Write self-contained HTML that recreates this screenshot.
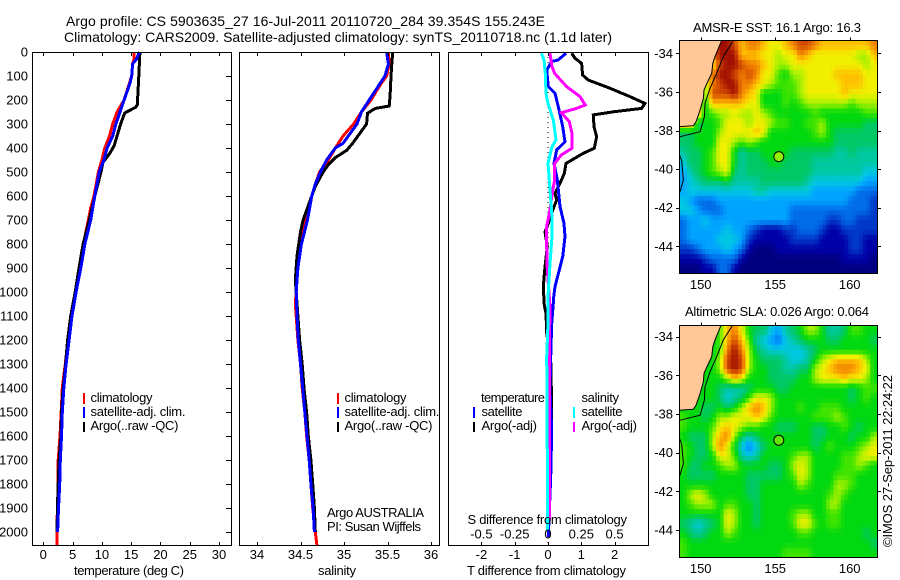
<!DOCTYPE html>
<html>
<head>
<meta charset="utf-8">
<title>Argo profile</title>
<style>
html,body{margin:0;padding:0;background:#fff;}
svg{display:block;}
text{font-family:"Liberation Sans",sans-serif;font-size:13px;fill:#000;}
</style>
</head>
<body>
<svg id="chart" width="900" height="580" viewBox="0 0 900 580" xmlns="http://www.w3.org/2000/svg">
<rect width="900" height="580" fill="#fff"/>
<text x="66" y="26" style="font-size:14px" textLength="479">Argo profile: CS 5903635_27 16-Jul-2011 20110720_284 39.354S 155.243E</text>
<text x="64" y="42" style="font-size:14px" textLength="548">Climatology: CARS2009. Satellite-adjusted climatology: synTS_20110718.nc (1.1d later)</text>

<g id="marks"></g>

<rect x="32.5" y="52.5" width="199" height="493" fill="none" stroke="#000"/>
<rect x="239.5" y="52.5" width="200" height="493" fill="none" stroke="#000"/>
<rect x="448.5" y="52.5" width="200" height="493" fill="none" stroke="#000"/>

<g id="ticks"></g>

<text x="74" y="575" textLength="110">temperature (deg C)</text>
<text x="318" y="575" textLength="38">salinity</text>
<text x="467" y="575" textLength="159">T difference from climatology</text>
<text x="467.5" y="524" textLength="159.5">S difference from climatology</text>

<g>
<rect x="83" y="393" width="2" height="11" fill="#f00"/>
<rect x="83" y="407" width="2" height="11" fill="#00f"/>
<rect x="83" y="422" width="2" height="10" fill="#000"/>
<text x="90.5" y="402" textLength="62">climatology</text>
<text x="90.5" y="416" textLength="95">satellite-adj. clim.</text>
<text x="90.5" y="430" textLength="88">Argo(..raw -QC)</text>
</g>
<g>
<rect x="337" y="393" width="2" height="11" fill="#f00"/>
<rect x="337" y="407" width="2" height="11" fill="#00f"/>
<rect x="337" y="422" width="2" height="10" fill="#000"/>
<text x="344.5" y="402" textLength="62">climatology</text>
<text x="344.5" y="416" textLength="95">satellite-adj. clim.</text>
<text x="344.5" y="430" textLength="88">Argo(..raw -QC)</text>
</g>
<text x="327" y="517" textLength="97">Argo AUSTRALIA</text>
<text x="327" y="531" textLength="94">PI: Susan Wijffels</text>

<g>
<text x="481" y="402" textLength="64">temperature</text>
<text x="581.5" y="402" textLength="37.5">salinity</text>
<rect x="473" y="407" width="2" height="11" fill="#00f"/>
<rect x="473" y="422" width="2" height="10" fill="#000"/>
<rect x="573" y="407" width="2" height="11" fill="#0ff"/>
<rect x="573" y="422" width="2" height="10" fill="#f0f"/>
<text x="481.5" y="416" textLength="41">satellite</text>
<text x="481.5" y="430" textLength="55.5">Argo(-adj)</text>
<text x="581.5" y="416" textLength="41">satellite</text>
<text x="581.5" y="430" textLength="55.5">Argo(-adj)</text>
</g>

<text x="693" y="32" textLength="168">AMSR-E SST: 16.1 Argo: 16.3</text>
<text x="685" y="316" textLength="184">Altimetric SLA: 0.026 Argo: 0.064</text>
<text transform="translate(892,547) rotate(-90)" textLength="172">©IMOS 27-Sep-2011 22:24:22</text>
</svg>

<script>
// ---- profile data: temperature panel ----
const argoTempDepths = [0,100,220,230,254,300,390,420,460,500,600,700,800,900,1000,1100,1200,1300,1400,1500,1600,1700,1800,1900,2000];
const argoTemp = [16.5,16.3,16.05,15.8,13.9,13.2,12.1,11.4,10.2,9.85,8.8,7.85,6.8,6.1,5.45,4.67,4.15,3.8,3.4,3.1,3.0,2.7,2.55,2.4,2.35];
const climTempDepths = [0,30,50,100,130,200,250,300,350,400,450,500,600,650,700,800,900,1000,1100,1200,1300,1400,1500,1600,1700,1800,1900,2000,2058];
const climTemp = [15.5,15.5,15.25,15.1,14.7,13.8,12.6,11.85,11.3,10.5,10,9.4,8.65,8.1,7.7,6.85,6.1,5.5,4.8,4.2,3.75,3.25,3.05,2.85,2.55,2.55,2.4,2.33,2.33];
const satTempDepths = [0,30,50,100,130,200,250,300,350,400,450,500,600,700,800,900,1000,1100,1200,1300,1400,1500,1600,1700,1800,1900,2000];
const satTemp = [16.4,15.9,15.25,15.1,14.8,13.8,13.1,12.4,11.85,10.9,10.35,9.55,8.8,8.1,7.1,6.4,5.6,4.9,4.4,3.9,3.5,3.25,3.1,2.9,2.8,2.6,2.45];

// ---- profile data: salinity panel ----
const argoSalDepths = [0,50,100,180,225,235,255,300,330,380,410,440,470,500,560,600,700,750,850,950,1000,1100,1200,1300,1400,1500,1600,1700,1800,1900,2000];
const argoSal = [35.56,35.55,35.54,35.53,35.52,35.36,35.27,35.26,35.2,35.1,35.03,34.9,34.82,34.76,34.67,34.63,34.53,34.5,34.46,34.44,34.45,34.47,34.49,34.52,34.54,34.57,34.59,34.62,34.64,34.66,34.67];
const climSalDepths = [0,50,100,130,170,200,250,300,350,400,450,500,550,600,650,700,800,900,1000,1050,1100,1200,1300,1400,1500,1600,1700,1800,1900,2000,2058];
const climSal = [35.51,35.52,35.49,35.43,35.36,35.31,35.2,35.11,34.99,34.9,34.82,34.72,34.67,34.63,34.58,34.55,34.5,34.46,34.45,34.44,34.45,34.47,34.5,34.52,34.55,34.57,34.6,34.62,34.64,34.67,34.69];
const satSalDepths = [0,50,100,150,200,250,300,350,380,400,450,500,550,600,700,800,900,1000,1100,1200,1300,1400,1500,1600,1700,1800,1900,2000];
const satSal = [35.49,35.51,35.47,35.38,35.29,35.2,35.15,35.05,34.99,34.9,34.8,34.73,34.67,34.63,34.58,34.51,34.47,34.45,34.46,34.475,34.5,34.525,34.55,34.575,34.6,34.62,34.645,34.66];

// ---- profile data: difference panel ----
const argoDiffTDepths = [5,26,47,96,117,151,186,214,235,249,262,311,353,401,422,464,506,547,589,617,658,714,749,811,894,978,1033,1047,1089,1172,1283,1478,1534,2020];
const argoDiffT = [0.71,0.81,1.01,1.04,1.21,1.86,2.46,2.91,2.81,1.96,1.36,1.38,1.46,1.39,1.06,0.54,0.49,0.36,0.21,0.26,0.14,0.01,-0.09,-0.02,-0.09,-0.14,-0.12,-0.12,-0.06,-0.04,0.08,0.11,0.11,0.01];
const satDiffTDepths = [5,33,40,75,144,172,228,311,374,408,464,533,644,714,769,853,978,1033,1047,1131,1270,1408,1575,1770,2020];
const satDiffT = [0.54,0.31,0.11,-0.04,0.01,0.21,0.31,0.44,0.51,0.26,0.18,0.28,0.36,0.48,0.51,0.44,0.21,0.16,0.16,0.11,0.08,0.06,0.11,0.08,0.01];
const argoDiffSDepths = [5,61,89,144,186,221,235,253,290,339,401,429,464,533,575,658,728,811,908,1061,1270,1686,1950];
const argoDiffS = [0.015,0.03,0.05,0.14,0.24,0.28,0.215,0.10,0.16,0.18,0.18,0.10,0.05,0.05,0.035,0.015,-0.01,-0.01,-0.005,0.015,0.01,0.01,0.01];
const satDiffSDepths = [5,33,89,172,214,283,367,394,464,575,686,769,881,1019,1131,1270,1686,1992];
const satDiffS = [-0.05,-0.03,-0.02,-0.015,0,0.04,0.06,0.03,0,0.015,0.03,0.03,0.015,0,0,-0.01,-0.005,-0.005];

// ---- tick labels ----
const depthTicks = [0,100,200,300,400,500,600,700,800,900,1000,1100,1200,1300,1400,1500,1600,1700,1800,1900,2000];
const tempTicks = [0,5,10,15,20,25,30];
const salTicks = [34,34.5,35,35.5,36];
const diffTTicks = [-2,-1,0,1,2];
const diffSTicks = [-0.5,-0.25,0,0.25,0.5];
const lonTicks = [150,155,160];
const latTicks = [-34,-36,-38,-40,-42,-44];

// ---- map data: colour level per cell (0 = coldest/lowest, 15 = warmest/highest), north to south ----
const sstGrid = [
[13,13,13,13,13,15,15,14,12,13,13,12,11,11,12,13,14,14,13,12,12,12,12,12,12,12,13],
[13,13,13,13,13,15,15,15,12,12,12,11,11,10,11,11,13,12,11,11,11,11,11,11,10,10,12],
[13,13,13,13,11,14,15,15,14,13,13,12,11,10,10,11,11,11,11,11,11,11,11,11,11,10,11],
[13,13,13,13,13,15,15,14,13,14,13,11,11,9,8,10,10,11,11,11,11,12,12,12,12,11,11],
[13,13,13,10,13,14,15,15,13,13,12,11,10,9,9,9,10,11,11,11,11,11,12,12,12,11,11],
[13,13,13,9,14,14,14,15,13,12,11,8,8,8,9,9,10,11,11,11,11,11,12,11,11,11,11],
[13,13,13,8,12,12,12,12,12,11,11,8,8,8,9,8,9,10,10,10,10,10,10,9,10,10,10],
[13,13,13,8,9,10,10,11,10,10,11,10,9,8,8,8,8,8,9,8,8,8,8,8,8,9,9],
[13,13,7,8,8,9,11,11,11,10,11,11,10,9,9,8,8,9,9,10,8,8,8,8,8,7,7],
[7,7,8,8,8,10,11,11,11,11,12,11,8,8,8,8,8,8,9,10,8,7,7,7,7,7,7],
[7,7,8,8,8,11,11,10,9,10,9,8,8,8,8,8,8,8,8,8,8,7,7,7,7,7,7],
[6,7,7,8,9,11,11,8,6,7,7,8,8,8,8,7,7,7,7,7,7,6,6,7,6,6,6],
[5,7,7,8,9,11,11,8,6,7,7,7,8,8,7,7,7,7,6,6,6,6,6,6,6,6,6],
[4,6,7,8,9,10,11,7,6,7,7,7,7,7,7,7,7,7,6,6,6,6,6,6,6,5,5],
[4,5,6,7,7,7,8,6,6,6,6,7,7,7,7,7,7,6,5,5,5,5,5,5,5,4,4],
[4,5,5,5,5,5,5,5,5,5,6,6,5,5,5,5,5,5,4,4,4,4,4,4,3,3,3],
[5,4,3,3,3,4,4,4,4,4,4,4,4,4,4,4,4,4,4,4,4,4,4,3,3,3,2],
[5,5,4,3,3,3,4,4,4,4,4,4,4,4,4,3,3,3,3,3,3,3,3,3,3,3,2],
[3,4,4,5,4,4,4,4,4,4,4,4,4,4,4,3,3,3,3,3,2,2,3,3,2,2,2],
[3,4,4,4,4,4,5,4,4,3,2,1,1,1,2,2,3,3,3,2,1,1,2,2,2,2,2],
[3,4,4,4,4,5,5,5,4,2,1,1,1,1,1,2,2,2,2,1,1,1,1,2,2,1,1],
[2,2,3,4,4,4,5,4,3,1,0,0,0,1,1,1,1,1,1,1,1,1,1,2,2,1,1],
[1,1,1,2,3,3,3,3,1,0,0,0,0,0,0,0,0,0,0,0,0,0,1,1,1,1,0],
[0,0,0,1,1,3,3,1,0,0,0,0,0,0,0,0,0,0,0,0,0,0,0,0,0,0,0]
];
const slaGrid = [
[8,8,8,8,8,9,12,13,11,8,7,7,5,4,6,7,8,10,10,8,6,6,7,9,9,8,8],
[8,8,8,8,8,9,12,14,12,9,6,5,4,3,5,6,7,8,8,8,7,7,8,8,8,8,7],
[8,8,8,8,8,9,13,15,13,10,7,6,5,5,5,5,5,6,7,8,8,8,8,8,8,8,8],
[8,8,8,8,8,10,14,15,14,10,8,7,7,7,6,5,5,6,8,10,11,12,12,12,12,10,8],
[8,8,8,8,8,10,14,15,14,10,8,8,7,7,6,6,7,7,10,11,12,13,13,13,12,11,8],
[8,8,8,8,8,8,10,12,11,8,8,8,7,7,7,7,8,8,10,11,11,11,12,11,11,10,8],
[8,8,8,8,8,7,6,6,6,7,8,8,8,7,7,8,8,8,8,8,8,8,8,7,8,9,9],
[8,8,8,8,8,7,5,6,7,9,11,11,10,8,8,8,8,8,8,8,8,8,8,7,8,9,8],
[8,8,8,7,7,8,7,8,10,12,13,12,10,8,8,8,9,8,8,9,9,9,8,8,8,8,8],
[9,8,8,7,8,10,10,11,11,11,12,11,9,8,8,8,8,8,9,9,9,10,9,8,8,8,8],
[9,8,8,8,9,11,12,11,10,9,9,8,8,7,7,7,8,8,7,7,8,8,9,8,7,8,8],
[8,7,7,7,10,12,13,10,7,6,7,8,8,8,8,8,8,8,7,7,8,8,8,7,8,8,10],
[9,8,7,7,10,13,11,8,5,3,5,7,8,8,8,8,8,8,7,8,9,8,8,8,9,10,11],
[9,8,7,7,8,11,11,9,6,5,6,8,8,8,8,9,10,10,8,8,8,8,9,9,10,11,11],
[9,7,7,8,8,9,10,10,8,8,8,8,7,7,8,10,11,10,8,8,8,8,9,9,10,9,8],
[8,7,7,7,7,8,8,8,8,7,7,7,7,7,8,9,11,10,8,8,8,9,9,9,8,8,8],
[8,8,8,8,8,8,8,8,8,7,7,8,8,8,8,8,10,9,8,8,8,10,10,9,8,8,8],
[8,10,11,10,8,8,8,8,8,7,7,8,8,8,8,8,8,8,8,8,9,10,9,8,8,8,8],
[8,9,10,10,10,8,9,9,8,8,7,8,8,8,8,8,8,8,8,8,10,10,8,8,8,8,8],
[8,8,8,8,8,8,11,10,8,8,7,8,8,8,8,9,10,10,8,8,9,9,8,8,8,8,8],
[7,6,5,6,7,8,11,10,8,8,7,8,8,8,8,9,11,11,9,8,9,9,8,8,8,8,8],
[8,7,6,7,8,8,10,9,8,8,8,8,8,8,8,8,9,9,8,8,8,8,8,8,8,7,8],
[9,8,8,8,8,8,8,8,8,8,8,8,8,8,8,8,8,8,8,8,8,8,8,8,8,8,7],
[9,8,8,8,8,8,8,8,8,8,8,8,8,8,9,9,9,9,8,8,8,8,8,8,8,8,8]
];

// ---- geography (lon/lat) ----
const coastLon = [151.41,151.19,150.96,150.81,150.74,150.47,150.22,150.18,149.96,149.69,149.51,148.57];
const coastLat = [-33.33,-33.74,-34.17,-34.52,-35.04,-35.47,-35.9,-36.33,-36.94,-37.54,-37.75,-37.8];
const shelfLon = [152.15,151.52,151.07,150.63,150.29,150.25,149.96,148.61];
const shelfLat = [-33.4,-34.17,-35.04,-35.81,-36.59,-37.28,-38.06,-38.32];
const tasLon = [148.57,148.72,148.84,148.61];
const tasLat = [-39.27,-39.53,-40.56,-41.17];
const floatLon = 155.243;
const floatLat = -39.354;

// ---- colour table, low to high ----
const palette = [[0,0,127],[0,0,168],[0,56,200],[0,108,232],[0,164,255],[0,200,224],[0,200,160],[0,200,100],[0,216,16],[64,228,0],[164,240,0],[240,240,0],[255,192,0],[240,128,0],[208,72,0],[160,16,0]];

const SVGNS = 'http://www.w3.org/2000/svg';
const marks = document.getElementById('marks');
const ticks = document.getElementById('ticks');

function make(tag, parent) {
  const el = document.createElementNS(SVGNS, tag);
  parent.appendChild(el);
  return el;
}

// axis functions
const depthY = d => 52 + d * 0.24;
const tempX = t => 43.3 + t * 5.857;
const salX = s => 257 + (s - 34) * 87;
const diffTX = t => 548 + t * 33.3;
const diffSX = s => 548 + s * 133.2;
const lonX = lon => 700.7 + (lon - 150) * 14.9;
const lat1Y = lat => 53.3 + (-34 - lat) * 19.3;
const lat2Y = lat => 336.7 + (-34 - lat) * 19.33;

function pts(xs, ys, fx, fy) {
  return xs.map((v, i) => fx(v).toFixed(1) + ',' + fy(ys[i]).toFixed(1)).join(' ');
}
function style(el, color, width) {
  el.setAttribute('fill', 'none');
  el.setAttribute('stroke', color);
  el.setAttribute('stroke-width', width);
  el.setAttribute('shape-rendering', 'crispEdges');
}
function levelColor(v) {
  const t = Math.max(0, Math.min(palette.length - 1, v));
  const i = Math.min(palette.length - 2, Math.floor(t));
  const f = t - i;
  const c = [0, 1, 2].map(k => Math.round(palette[i][k] + (palette[i + 1][k] - palette[i][k]) * f));
  return 'rgb(' + c.join(',') + ')';
}

// difference panel zero line
let zero = make('line', marks);


zero.setAttribute('x1', diffTX(0));
zero.setAttribute('x2', diffTX(0));
zero.setAttribute('y1', depthY(0));
zero.setAttribute('y2', depthY(2058));
zero.setAttribute('stroke', '#000');
zero.setAttribute('stroke-dasharray', '1 4');

// temperature lines
let l;
l = make('polyline', marks);


l.setAttribute('points', pts(climTemp, climTempDepths, tempX, depthY));
style(l, '#f00', 3);
l = make('polyline', marks);


l.setAttribute('points', pts(argoTemp, argoTempDepths, tempX, depthY));
style(l, '#000', 3);
l = make('polyline', marks);


l.setAttribute('points', pts(satTemp, satTempDepths, tempX, depthY));
style(l, '#00f', 3);

// salinity lines
l = make('polyline', marks);


l.setAttribute('points', pts(climSal, climSalDepths, salX, depthY));
style(l, '#f00', 3);
l = make('polyline', marks);


l.setAttribute('points', pts(argoSal, argoSalDepths, salX, depthY));
style(l, '#000', 3);
l = make('polyline', marks);


l.setAttribute('points', pts(satSal, satSalDepths, salX, depthY));
style(l, '#00f', 3);

// difference lines
l = make('polyline', marks);


l.setAttribute('points', pts(argoDiffT, argoDiffTDepths, diffTX, depthY));
style(l, '#000', 3);
l = make('polyline', marks);


l.setAttribute('points', pts(satDiffT, satDiffTDepths, diffTX, depthY));
style(l, '#00f', 3);
l = make('polyline', marks);


l.setAttribute('points', pts(argoDiffS, argoDiffSDepths, diffSX, depthY));
style(l, '#f0f', 3);
l = make('polyline', marks);


l.setAttribute('points', pts(satDiffS, satDiffSDepths, diffSX, depthY));
style(l, '#0ff', 3);

// tick helpers
function tickLine(x1, y1, x2, y2) {
  const t = make('line', ticks);
  
  
  t.setAttribute('x1', x1);
  t.setAttribute('y1', y1);
  t.setAttribute('x2', x2);
  t.setAttribute('y2', y2);
  t.setAttribute('stroke', '#000');
  t.setAttribute('shape-rendering', 'crispEdges');
}
function tickText(x, y, str, anchor) {
  const t = make('text', ticks);
  
  
  t.setAttribute('x', x);
  t.setAttribute('y', y);
  t.setAttribute('text-anchor', anchor);
  t.textContent = str;
}

// depth axis
depthTicks.forEach(d => {
  const y = Math.round(depthY(d)) + 0.5;
  tickLine(226, y, 231, y);
  tickText(28, depthY(d) + 4.5, String(d), 'end');
});
// bottom axes
function xAxis(values, fx, labelY) {
  values.forEach(v => {
    const x = Math.round(fx(v)) + 0.5;
    tickLine(x, 53, x, 56);
    tickLine(x, 542, x, 545);
    tickText(fx(v), labelY, String(v), 'middle');
  });
}
xAxis(tempTicks, tempX, 559);
xAxis(salTicks, salX, 559);
xAxis(diffTTicks, diffTX, 559);
diffSTicks.forEach(v => {
  tickText(diffSX(v), 538.5, String(v), 'middle');
});

// sample a grid between cell centres, so each data cell draws as four map pixels
function gridLevel(grid, r, c) {
  const rows = grid.length;
  const cols = grid[0].length;
  const r0 = Math.floor(r);
  const c0 = Math.floor(c);
  const fr = r - r0;
  const fc = c - c0;
  const at = (a, b) => grid[Math.max(0, Math.min(rows - 1, a))][Math.max(0, Math.min(cols - 1, b))];
  return (at(r0, c0) * (1 - fc) + at(r0, c0 + 1) * fc) * (1 - fr) +
         (at(r0 + 1, c0) * (1 - fc) + at(r0 + 1, c0 + 1) * fc) * fr;
}

// maps
function drawMap(grid, top, bottom, latY, mapName, dotColor) {
  const g = make('g', marks);
  
  
  const clipId = mapName + '-clip';
  const clip = make('clipPath', g);
  clip.setAttribute('id', clipId);
  const clipRect = make('rect', clip);
  clipRect.setAttribute('x', 679.5);
  clipRect.setAttribute('y', top);
  clipRect.setAttribute('width', 198);
  clipRect.setAttribute('height', bottom - top);
  const rows = grid.length * 2;
  const cols = grid[0].length * 2;
  const cellW = 198 / cols;
  const cellH = (bottom - top) / rows;
  for (let r = 0; r < rows; r++) {
    for (let c = 0; c < cols; c++) {
      const cell = make('rect', g);
      
      
      cell.setAttribute('x', (679.5 + c * cellW).toFixed(2));
      cell.setAttribute('y', (top + r * cellH).toFixed(2));
      cell.setAttribute('width', (cellW + 0.4).toFixed(2));
      cell.setAttribute('height', (cellH + 0.4).toFixed(2));
      cell.setAttribute('fill', levelColor(gridLevel(grid, (r + 0.5) / 2 - 0.5, (c + 0.5) / 2 - 0.5)));
    }
  }
  const land = make('polygon', g);
  
  
  land.setAttribute('points', pts(coastLon, coastLat, lonX, latY) + ' ' + lonX(148.57) + ',' + latY(-33.33));
  land.setAttribute('fill', '#ffc896');
  land.setAttribute('clip-path', 'url(#' + clipId + ')');

  const coast = make('polyline', g);
  
  
  coast.setAttribute('points', pts(coastLon, coastLat, lonX, latY));
  coast.setAttribute('fill', 'none');
  coast.setAttribute('stroke', '#000');
  coast.setAttribute('clip-path', 'url(#' + clipId + ')');

  const shelf = make('polyline', g);
  
  
  shelf.setAttribute('points', pts(shelfLon, shelfLat, lonX, latY));
  shelf.setAttribute('fill', 'none');
  shelf.setAttribute('stroke', '#000');
  shelf.setAttribute('clip-path', 'url(#' + clipId + ')');

  const tas = make('polyline', g);
  
  
  tas.setAttribute('points', pts(tasLon, tasLat, lonX, latY));
  tas.setAttribute('fill', 'none');
  tas.setAttribute('stroke', '#000');
  tas.setAttribute('clip-path', 'url(#' + clipId + ')');

  const dot = make('circle', g);
  
  
  dot.setAttribute('cx', lonX(floatLon));
  dot.setAttribute('cy', latY(floatLat));
  dot.setAttribute('r', 5);
  dot.setAttribute('fill', dotColor);
  dot.setAttribute('stroke', '#000');

  const frame = make('rect', g);
  
  
  frame.setAttribute('x', 679.5);
  frame.setAttribute('y', top);
  frame.setAttribute('width', 198);
  frame.setAttribute('height', bottom - top);
  frame.setAttribute('fill', 'none');
  frame.setAttribute('stroke', '#000');

  lonTicks.forEach(v => {
    const x = Math.round(lonX(v)) + 0.5;
    tickLine(x, top - 3, x, top);
    tickText(lonX(v), bottom + 15.5, String(v), 'middle');
  });
  latTicks.forEach(v => {
    const y = Math.round(latY(v)) + 0.5;
    tickLine(676, y, 679, y);
    tickLine(878, y, 881, y);
    tickText(673, latY(v) + 4.5, String(v), 'end');
  });
}
drawMap(sstGrid, 40.5, 273.5, lat1Y, 'sst-map', '#90f000');
drawMap(slaGrid, 325.5, 557.5, lat2Y, 'sla-map', '#60e800');
</script>
</body>
</html>
